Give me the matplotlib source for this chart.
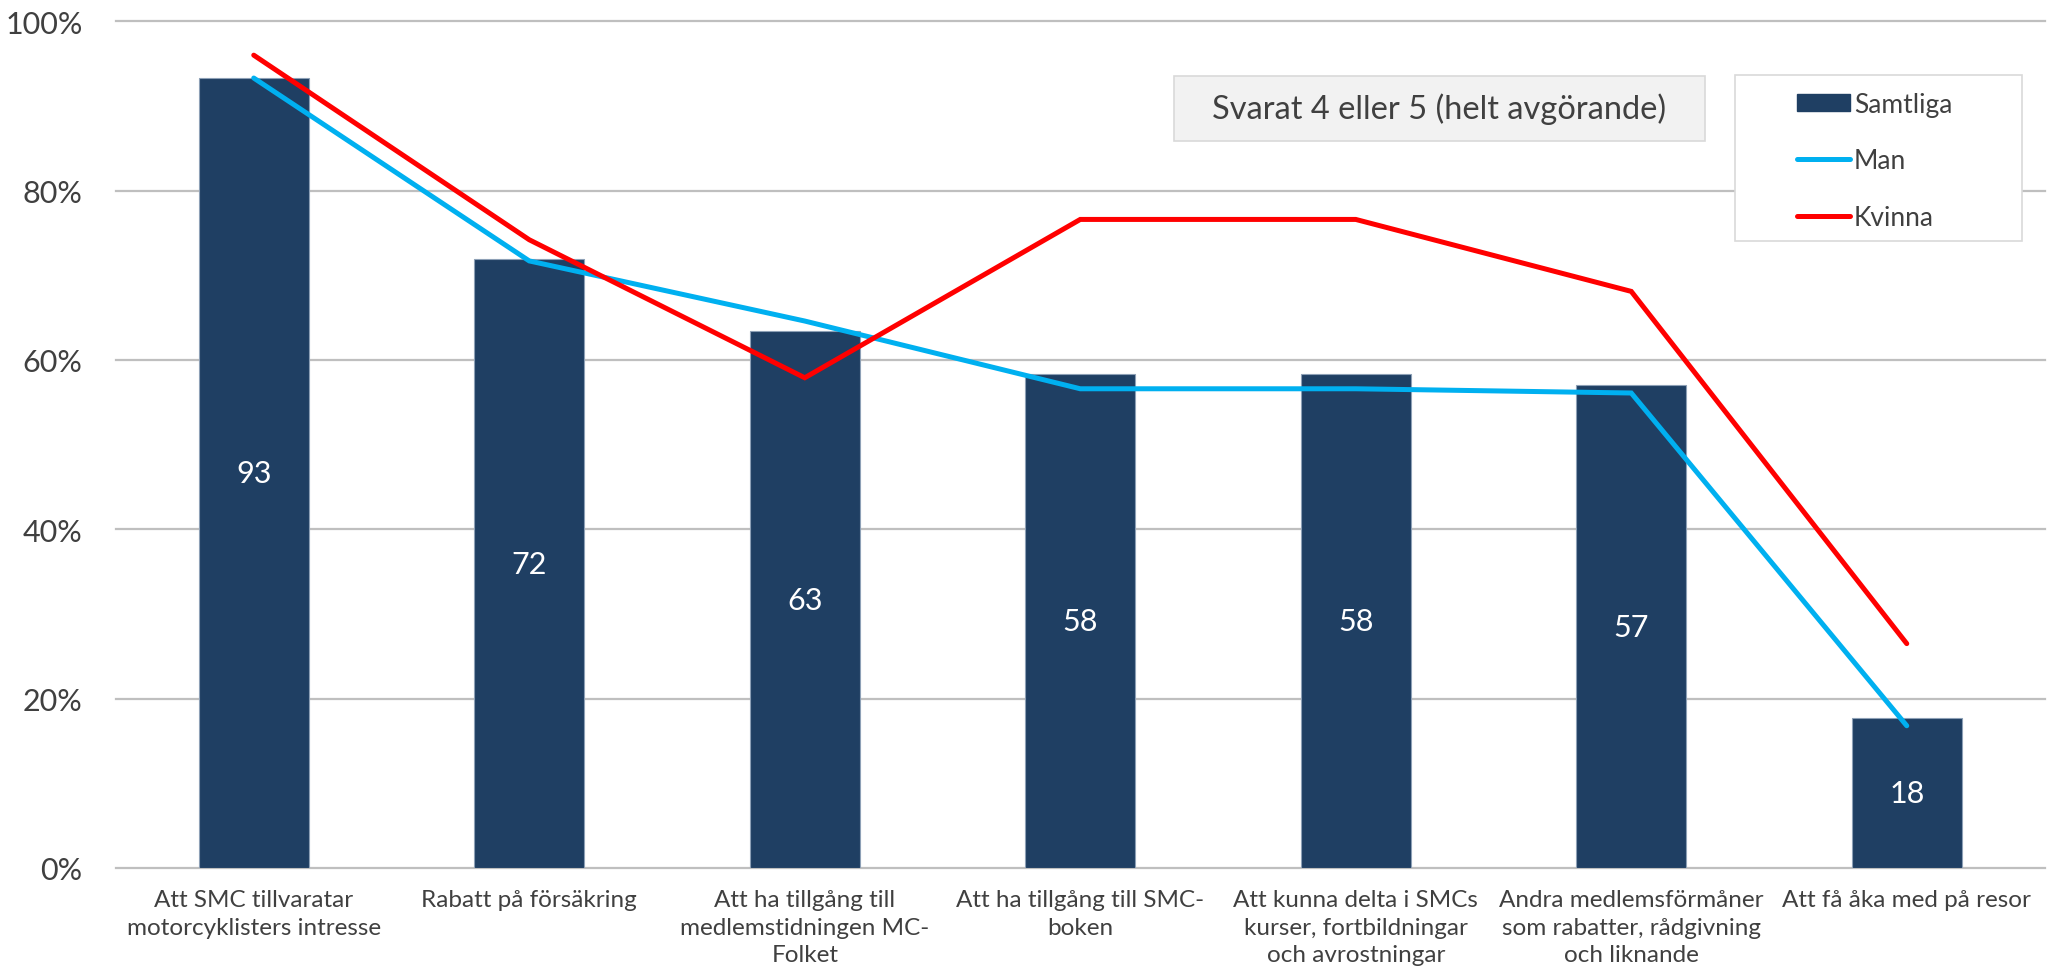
import matplotlib
matplotlib.use("Agg")
import matplotlib.pyplot as plt
from matplotlib.patches import Rectangle, Patch
from matplotlib.lines import Line2D

# ---- data -------------------------------------------------------------
categories = [
    "Att SMC tillvaratar\nmotorcyklisters intresse",
    "Rabatt på försäkring",
    "Att ha tillgång till\nmedlemstidningen MC-\nFolket",
    "Att ha tillgång till SMC-\nboken",
    "Att kunna delta i SMCs\nkurser, fortbildningar\noch avrostningar",
    "Andra medlemsförmåner\nsom rabatter, rådgivning\noch liknande",
    "Att få åka med på resor",
]
samtliga = [93.3, 71.9, 63.4, 58.4, 58.4, 57.0, 17.7]
man = [93.3, 71.7, 64.6, 56.6, 56.6, 56.1, 16.8]
kvinna = [96.0, 74.2, 57.9, 76.6, 76.6, 68.1, 26.5]
yticks = [0, 20, 40, 60, 80, 100]
ytick_labels = ["0%", "20%", "40%", "60%", "80%", "100%"]
series_names = ["Samtliga", "Man", "Kvinna"]
box_title = "Svarat 4 eller 5 (helt avgörande)"

# ---- style ------------------------------------------------------------
plt.rcParams["font.family"] = ["Lato", "DejaVu Sans"]
TEXT = "#404040"
NAVY = "#1F3F63"
CYAN = "#00B0F0"
RED = "#FF0000"
GRID = "#BFBFBF"

W, H = 2047, 978
fig = plt.figure(figsize=(W / 100, H / 100), dpi=100)
fig.patch.set_facecolor("white")

left_px, right_px, top_px, bottom_px = 116, 2044.5, 22.3, 869
ax = fig.add_axes([left_px / W, 1 - bottom_px / H,
                   (right_px - left_px) / W, (bottom_px - top_px) / H])

x = list(range(len(categories)))
bars = ax.bar(x, samtliga, width=0.4, color=NAVY, edgecolor="#8DA0B6",
              linewidth=0.8, zorder=2)
ax.plot(x, man, color=CYAN, lw=3.6, solid_capstyle="round",
        solid_joinstyle="miter", zorder=3)
ax.plot(x, kvinna, color=RED, lw=3.6, solid_capstyle="round",
        solid_joinstyle="miter", zorder=4)

for xi, v in zip(x, samtliga):
    ax.text(xi, v / 2, f"{v:.0f}", ha="center", va="center",
            color="white", fontsize=22, zorder=5)

ax.set_xlim(-0.5, len(categories) - 0.5)
ax.set_ylim(0, 100)
ax.set_yticks(yticks)
ax.set_yticklabels(ytick_labels)
ax.set_xticks(x)
ax.set_xticklabels(categories, linespacing=1.4)
ax.tick_params(axis="y", length=0, pad=24, labelsize=22, labelcolor=TEXT)
ax.tick_params(axis="x", length=0, pad=15, labelsize=17.5, labelcolor=TEXT)
for s in ax.spines.values():
    s.set_visible(False)
ax.yaxis.grid(True, color=GRID, lw=1.6, zorder=0)
ax.set_axisbelow(True)
for gl in ax.get_ygridlines():
    gl.set_clip_on(False)

# ---- title box ----------------------------------------------------------
bx0, bx1, by0, by1 = 1174, 1705, 76.7, 142
fig.patches.append(Rectangle((bx0 / W, 1 - by1 / H), (bx1 - bx0) / W,
                             (by1 - by0) / H, transform=fig.transFigure,
                             facecolor="#F2F2F2", edgecolor="#D9D9D9",
                             lw=1.2, zorder=5))
fig.text((bx0 + bx1) / 2 / W, 1 - (by0 + by1) / 2 / H, box_title,
         ha="center", va="center", fontsize=23.5, color=TEXT, zorder=6)

# ---- legend -----------------------------------------------------------
lx0, lx1, ly0, ly1 = 1735, 2022, 76, 242
fig.patches.append(Rectangle((lx0 / W, 1 - ly1 / H), (lx1 - lx0) / W,
                             (ly1 - ly0) / H, transform=fig.transFigure,
                             facecolor="white", edgecolor="#D9D9D9",
                             lw=1.2, zorder=5))
handles = [
    Patch(facecolor=NAVY, edgecolor=NAVY),
    Line2D([], [], color=CYAN, lw=3.6, solid_capstyle="round"),
    Line2D([], [], color=RED, lw=3.6, solid_capstyle="round"),
]
leg = fig.legend(handles, series_names, loc="center left",
                 bbox_to_anchor=(1797 / W, 1 - 162 / H),
                 frameon=False, fontsize=19, handlelength=2.0,
                 handleheight=0.65, handletextpad=0.15, labelspacing=1.2,
                 borderpad=0, borderaxespad=0)
leg.set_zorder(7)
for t in leg.get_texts():
    t.set_color(TEXT)

fig.savefig("out.png", dpi=100, facecolor="white")
